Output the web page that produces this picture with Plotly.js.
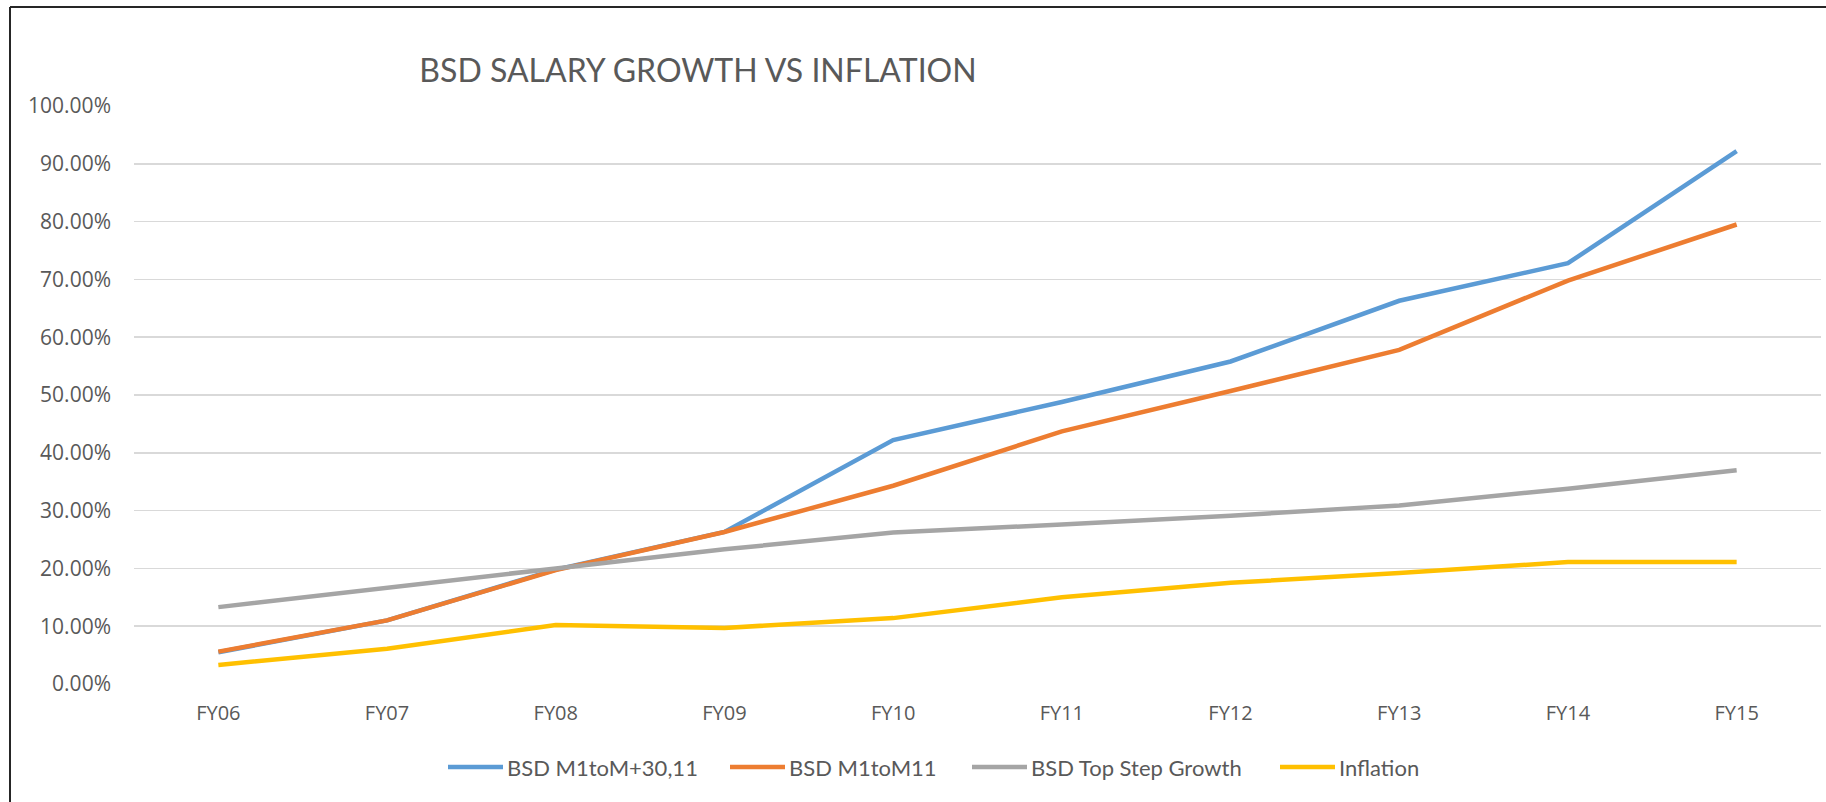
<!DOCTYPE html>
<html>
<head>
<meta charset="utf-8">
<script src="https://cdn.plot.ly/plotly-3.0.1.min.js"></script>
<style>
html,body{margin:0;padding:0;background:#fff;}
#chart{width:1826px;height:802px;}
</style>
</head>
<body>
<div id="chart"></div>
<script>
const categories = ["FY06","FY07","FY08","FY09","FY10","FY11","FY12","FY13","FY14","FY15"];
const seriesNames = ["BSD M1toM+30,11","BSD M1toM11","BSD Top Step Growth","Inflation"];
const m1toM30 = [0.055,0.110,0.198,0.263,0.422,0.488,0.558,0.663,0.728,0.922];
const m1toM11 = [0.056,0.110,0.197,0.263,0.343,0.437,0.507,0.578,0.698,0.795];
const topStep = [0.133,0.167,0.200,0.233,0.262,0.276,0.291,0.309,0.338,0.370];
const inflation = [0.033,0.061,0.102,0.097,0.114,0.150,0.175,0.192,0.211,0.211];
const yTickVals = [0,0.1,0.2,0.3,0.4,0.5,0.6,0.7,0.8,0.9,1.0];
const yTickText = ["0.00%","10.00%","20.00%","30.00%","40.00%","50.00%","60.00%","70.00%","80.00%","90.00%","100.00%"];

const colors = ["#5B9BD5","#ED7D31","#A5A5A5","#FFC000"];
const values = [m1toM30, m1toM11, topStep, inflation];

const traces = values.map((v, i) => ({
  type: "scatter",
  mode: "lines",
  x: categories,
  y: v,
  name: seriesNames[i],
  line: {color: colors[i], width: 4.5, shape: "linear"},
  hoverinfo: "x+y+name",
  showlegend: false
}));

const W = 1826, H = 802;
const L = 134, R = 1821, T = 106, B = 684;
const px2x = p => (p - L) / (R - L);
const py2y = p => (B - p) / (B - T);

// legend layout (pixel positions of each entry's line start)
const legendStarts = [448, 730, 972, 1280];
const legendLineLen = 55;
const legendY = 767;
const legendFont = {family: "Lato, sans-serif", size: 22, color: "#595959"};

const shapes = [
  {type: "line", xref: "paper", yref: "paper", x0: px2x(10), x1: px2x(10), y0: py2y(7), y1: py2y(810), line: {color: "#262626", width: 2}},
  {type: "line", xref: "paper", yref: "paper", x0: px2x(10), x1: px2x(1830), y0: py2y(7), y1: py2y(7), line: {color: "#262626", width: 2}}
];
const annotations = [];
seriesNames.forEach((n, i) => {
  shapes.push({type: "line", xref: "paper", yref: "paper",
    x0: px2x(legendStarts[i]), x1: px2x(legendStarts[i] + legendLineLen),
    y0: py2y(legendY), y1: py2y(legendY),
    line: {color: colors[i], width: 4.5}});
  annotations.push({xref: "paper", yref: "paper",
    x: px2x(legendStarts[i] + legendLineLen + 2), y: py2y(legendY),
    xanchor: "left", yanchor: "middle", showarrow: false,
    text: n, font: legendFont});
});

const layout = {
  width: W, height: H,
  margin: {l: L, r: W - R, t: T, b: H - B, pad: 0},
  paper_bgcolor: "#ffffff",
  plot_bgcolor: "#ffffff",
  font: {family: "Open Sans, sans-serif", color: "#595959", size: 20},
  title: {
    text: "BSD SALARY GROWTH VS INFLATION",
    font: {family: "Lato, sans-serif", size: 32, color: "#595959"},
    x: 698 / W, xref: "container", xanchor: "center",
    y: 1 - 71 / H, yref: "container", yanchor: "middle"
  },
  xaxis: {
    type: "category",
    range: [-0.5, 9.5],
    showgrid: false,
    zeroline: false,
    showline: false,
    ticks: "",
    tickfont: {family: "Open Sans, sans-serif", size: 20, color: "#595959"},
    ticklabelstandoff: 15,
    fixedrange: true
  },
  yaxis: {
    range: [0, 1],
    tickvals: yTickVals,
    ticktext: yTickText,
    showgrid: true,
    gridcolor: "#D9D9D9",
    gridwidth: 1.5,
    zeroline: false,
    showline: false,
    ticks: "",
    tickfont: {family: "Open Sans, sans-serif", size: 21, color: "#595959"},
    ticklabelstandoff: 22,
    fixedrange: true
  },
  showlegend: false,
  shapes: shapes,
  annotations: annotations
};

Plotly.newPlot("chart", traces, layout, {displayModeBar: false, staticPlot: true});
</script>
</body>
</html>
